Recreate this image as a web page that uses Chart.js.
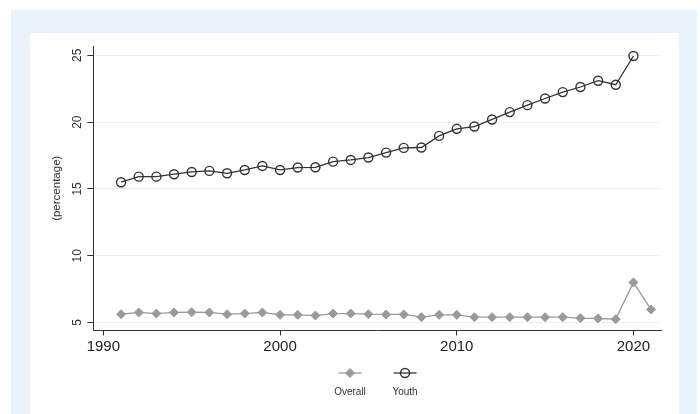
<!DOCTYPE html>
<html>
<head>
<meta charset="utf-8">
<script src="https://cdn.jsdelivr.net/npm/chart.js@4.4.1/dist/chart.umd.min.js"></script>
<style>
    body { margin: 0; background: #fff; font-family: "Liberation Sans", Arial, sans-serif; }
    #frame { position: absolute; left: 11px; top: 10px; width: 686px; height: 404px; background: #eaf3fc; }
    #panel { position: absolute; left: 30px; top: 33px; width: 649px; height: 381px; background: #fff; }
</style>
</head>
<body>
<div id="frame"></div>
<div id="panel"><canvas id="chart" width="649" height="381"></canvas></div>
<script>
// Роки та значення (у відсотках)
const years = [1991, 1992, 1993, 1994, 1995, 1996, 1997, 1998, 1999, 2000,
    2001, 2002, 2003, 2004, 2005, 2006, 2007, 2008, 2009, 2010,
    2011, 2012, 2013, 2014, 2015, 2016, 2017, 2018, 2019, 2020, 2021];
const overall = [5.62, 5.75, 5.67, 5.75, 5.77, 5.75, 5.62, 5.67, 5.75, 5.57,
    5.57, 5.52, 5.67, 5.67, 5.62, 5.6, 5.6, 5.4, 5.57, 5.57,
    5.4, 5.4, 5.4, 5.4, 5.4, 5.4, 5.32, 5.3, 5.25, 8.0, 5.97];
const youth = [15.5, 15.92, 15.92, 16.1, 16.27, 16.35, 16.17, 16.42, 16.72, 16.42,
    16.6, 16.62, 17.04, 17.17, 17.35, 17.72, 18.07, 18.1, 18.97, 19.5,
    19.67, 20.2, 20.75, 21.27, 21.77, 22.25, 22.63, 23.1, 22.8, 24.95, null];
const xTicks = [1990, 2000, 2010, 2020];
const yTicks = [5, 10, 15, 20, 25];
const yTitle = '(percentage)';

const FONT = '"Liberation Sans", Arial, sans-serif';

function toPoints(values) {
    return years.map((year, i) => ({ x: year, y: values[i] }));
}

// Легенда в стилі Stata: маркер над підписом
const stataLegend = {
    id: 'stataLegend',
    afterDraw(chart) {
        const ctx = chart.ctx;
        const area = chart.chartArea;
        const mid = (area.left + area.right) / 2;
        const step = 55;
        const n = chart.data.datasets.length;
        chart.data.datasets.forEach((ds, i) => {
            const cx = mid + (i - (n - 1) / 2) * step;
            const cy = area.bottom + 42.5;
            ctx.save();
            ctx.strokeStyle = ds.borderColor;
            ctx.lineWidth = ds.borderWidth;
            ctx.beginPath();
            ctx.moveTo(cx - 11.5, cy);
            ctx.lineTo(cx + 11.5, cy);
            ctx.stroke();
            ctx.fillStyle = ds.pointBackgroundColor;
            ctx.strokeStyle = ds.pointBorderColor;
            ctx.lineWidth = ds.pointBorderWidth;
            ctx.beginPath();
            if (ds.pointStyle === 'circle') {
                ctx.arc(cx, cy, ds.pointRadius, 0, Math.PI * 2);
            } else {
                ctx.moveTo(cx, cy - ds.pointRadius);
                ctx.lineTo(cx + ds.pointRadius, cy);
                ctx.lineTo(cx, cy + ds.pointRadius);
                ctx.lineTo(cx - ds.pointRadius, cy);
                ctx.closePath();
            }
            ctx.fill();
            ctx.stroke();
            ctx.fillStyle = '#333';
            ctx.font = '10px ' + FONT;
            ctx.textAlign = 'center';
            ctx.textBaseline = 'middle';
            ctx.fillText(ds.label, cx, cy + 19);
            ctx.restore();
        });
    }
};

// Повернуті підписи осі Y та її назва
const yAxisText = {
    id: 'yAxisText',
    afterDraw(chart) {
        const ctx = chart.ctx;
        const scale = chart.scales.y;
        const area = chart.chartArea;
        ctx.save();
        ctx.fillStyle = '#333';
        ctx.textAlign = 'center';
        ctx.textBaseline = 'middle';
        ctx.font = '12px ' + FONT;
        yTicks.forEach(v => {
            const y = scale.getPixelForValue(v);
            ctx.save();
            ctx.translate(area.left - 15.6, y);
            ctx.rotate(-Math.PI / 2);
            ctx.fillText(String(v), 0, 0);
            ctx.restore();
        });
        ctx.font = '11.5px ' + FONT;
        ctx.translate(area.left - 36.6, (area.top + area.bottom) / 2);
        ctx.rotate(-Math.PI / 2);
        ctx.fillText(yTitle, 0, 0);
        ctx.restore();
    }
};

new Chart(document.getElementById('chart'), {
    type: 'line',
    data: {
        datasets: [{
            label: 'Overall',
            data: toPoints(overall),
            borderColor: '#9a9a9a',
            borderWidth: 1.3,
            pointStyle: 'rectRot',
            pointRadius: 4.5,
            pointBackgroundColor: '#9a9a9a',
            pointBorderColor: '#9a9a9a',
            pointBorderWidth: 1,
            tension: 0
        }, {
            label: 'Youth',
            data: toPoints(youth),
            borderColor: '#333',
            borderWidth: 1.3,
            pointStyle: 'circle',
            pointRadius: 4.5,
            pointBackgroundColor: 'rgba(0,0,0,0)',
            pointBorderColor: '#333',
            pointBorderWidth: 1.4,
            tension: 0
        }]
    },
    options: {
        responsive: false,
        animation: false,
        devicePixelRatio: 1,
        layout: { padding: { top: 13, right: 17.3, left: 0, bottom: 0 } },
        plugins: {
            legend: { display: false },
            tooltip: { enabled: false }
        },
        scales: {
            x: {
                type: 'linear',
                min: 1989.43,
                max: 2021.6,
                afterBuildTicks: scale => { scale.ticks = xTicks.map(v => ({ value: v })); },
                afterFit: scale => { scale.height = 83.5; },
                border: { color: '#333', width: 1 },
                grid: { drawOnChartArea: false, tickColor: '#333', tickLength: 5 },
                ticks: {
                    color: '#222',
                    padding: 2,
                    font: { family: FONT, size: 15 },
                    callback: v => String(v)
                }
            },
            y: {
                min: 4.4,
                max: 25.7,
                afterBuildTicks: scale => { scale.ticks = yTicks.map(v => ({ value: v })); },
                afterFit: scale => { scale.width = 63.3; },
                border: { color: '#333', width: 1 },
                grid: { color: '#eaf2f3', lineWidth: 1, tickColor: '#333', tickLength: 6 },
                ticks: { display: false }
            }
        }
    },
    plugins: [stataLegend, yAxisText]
});
</script>
</body>
</html>
